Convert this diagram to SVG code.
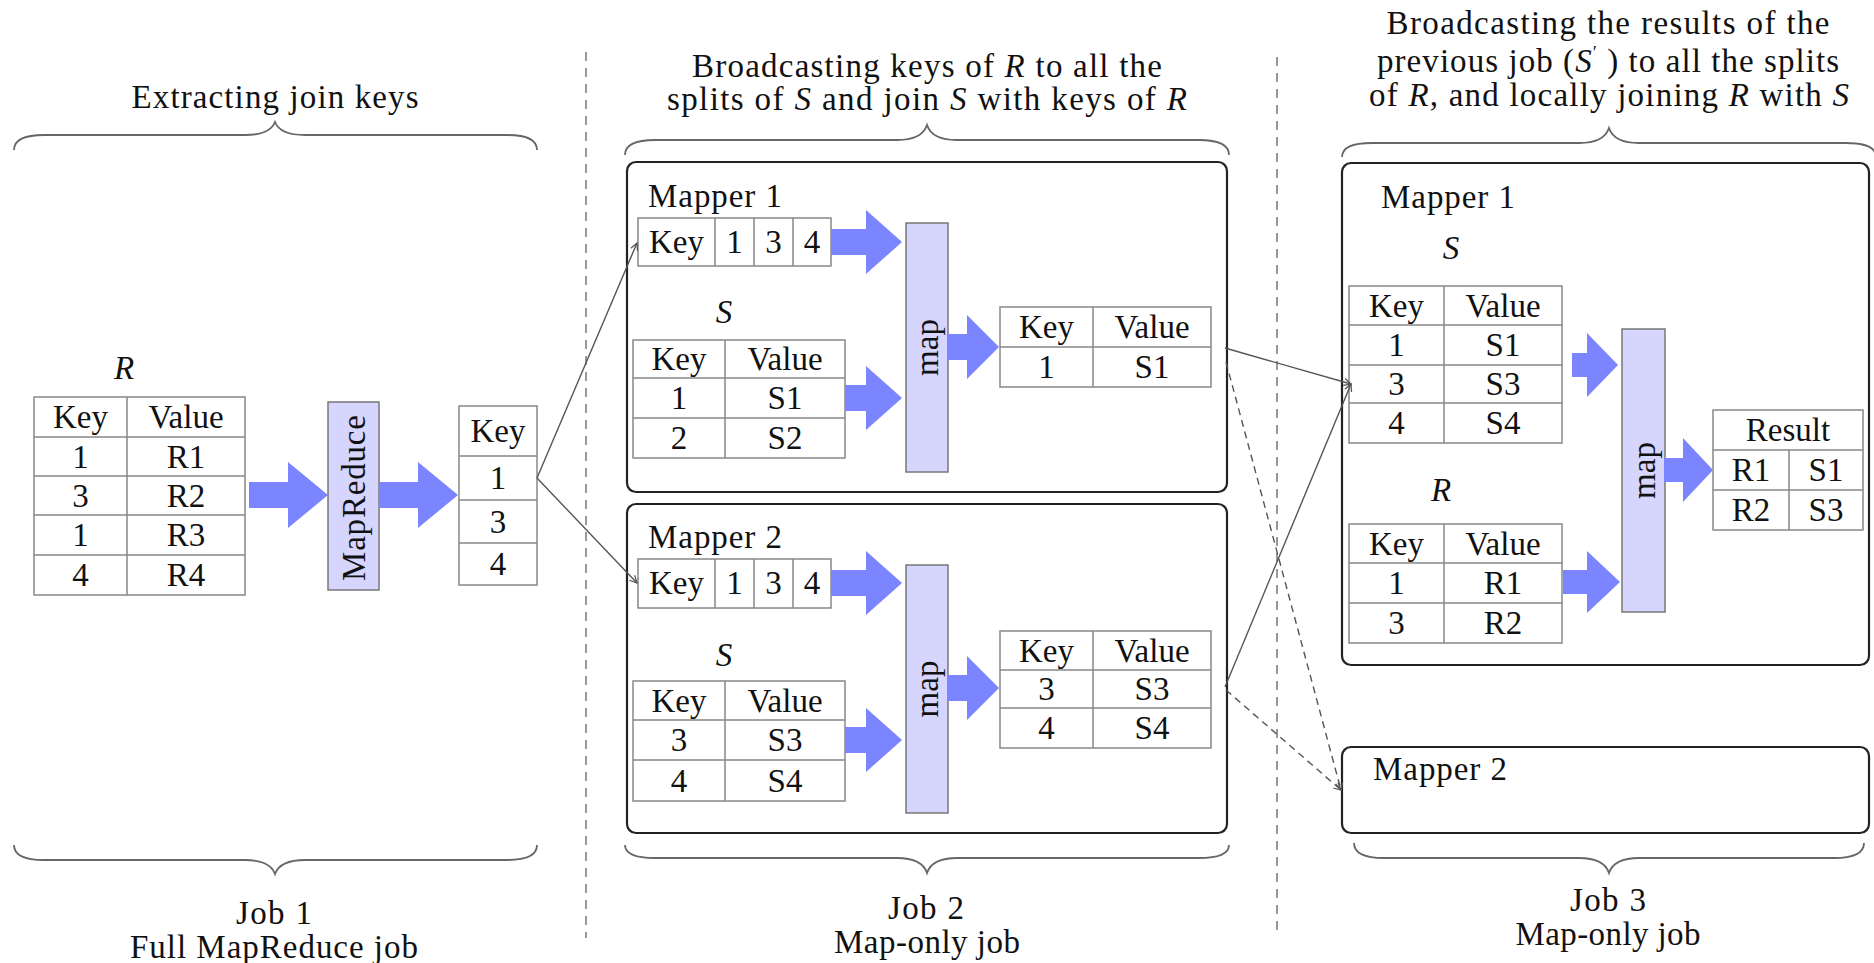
<svg xmlns="http://www.w3.org/2000/svg" width="1874" height="963" viewBox="0 0 1874 963">
<defs>
<style>
text{font-family:"Liberation Serif","Times New Roman",serif;fill:#111;font-size:33px}
.c{text-anchor:middle;dominant-baseline:central}
.m{text-anchor:middle}
.i{font-style:italic}
.cell{fill:#fff;stroke:#888;stroke-width:1.5}
.grid{stroke:#888;stroke-width:1.5;fill:none}
.fat{fill:#7b85ff}
.proc{fill:#d5d5fe;stroke:#777;stroke-width:1.5}
.box{fill:#fff;stroke:#222;stroke-width:2.2}
.brace{fill:none;stroke:#666;stroke-width:1.8}
.sep{stroke:#999;stroke-width:2;stroke-dasharray:9 7}
.con{stroke:#555;stroke-width:1.4;fill:none;marker-end:url(#tip)}
.dash{stroke-dasharray:7 5}
</style>
<marker id="tip" viewBox="0 0 10 10" refX="9" refY="5" markerWidth="9" markerHeight="9" orient="auto" markerUnits="userSpaceOnUse"><path d="M1,1 L9,5 L1,9" fill="none" stroke="#555" stroke-width="1.4"/></marker>
</defs>
<rect width="1874" height="963" fill="#fff"/>

<g id="separators">
<line class="sep" x1="586" y1="52" x2="586" y2="938"/>
<line class="sep" x1="1277" y1="57" x2="1277" y2="932"/>
</g>

<g id="braces">
<path class="brace" d="M14,150 Q14,135 44,135 L245,135 Q270,135 275,122 Q280,135 305,135 L507,135 Q537,135 537,150"/>
<path class="brace" d="M625,155 Q625,140 655,140 L897,140 Q922,140 927,125 Q932,140 957,140 L1199,140 Q1229,140 1229,155"/>
<path class="brace" d="M1342,157 Q1342,143 1372,143 L1579,143 Q1604,143 1609,128 Q1614,143 1639,143 L1846,143 Q1876,143 1876,157"/>
<path class="brace" d="M14,845 Q14,860 44,860 L245,860 Q270,860 275,874 Q280,860 305,860 L507,860 Q537,860 537,845"/>
<path class="brace" d="M625,845 Q625,858 655,858 L897,858 Q922,858 927,873 Q932,858 957,858 L1199,858 Q1229,858 1229,845"/>
<path class="brace" d="M1354,843 Q1354,858 1384,858 L1579,858 Q1604,858 1609,873 Q1614,858 1639,858 L1834,858 Q1864,858 1864,843"/>
</g>

<g id="titles">
<text class="m" x="275" y="108" textLength="287">Extracting join keys</text>
<text class="m" x="927" y="77" textLength="470">Broadcasting keys of <tspan class="i">R</tspan> to all the</text>
<text class="m" x="927" y="110" textLength="520">splits of <tspan class="i">S</tspan> and join <tspan class="i">S</tspan> with keys of <tspan class="i">R</tspan></text>
<text class="m" x="1608" y="34" textLength="443">Broadcasting the results of the</text>
<text class="m" x="1608" y="72" textLength="462">previous job (<tspan class="i">S</tspan><tspan font-size="19" dy="-13">′</tspan><tspan dy="13"> ) to all the splits</tspan></text>
<text class="m" x="1609" y="106" textLength="480">of <tspan class="i">R</tspan>, and locally joining <tspan class="i">R</tspan> with <tspan class="i">S</tspan></text>
<text class="m" x="274" y="924" textLength="76">Job 1</text>
<text class="m" x="274" y="958" textLength="288">Full MapReduce job</text>
<text class="m" x="926" y="919" textLength="76">Job 2</text>
<text class="m" x="927" y="953" textLength="186">Map-only job</text>
<text class="m" x="1608" y="911" textLength="76">Job 3</text>
<text class="m" x="1608" y="945" textLength="185">Map-only job</text>
</g>

<!-- Job 1 -->
<g id="job1-R">
<text class="c i" x="124" y="368">R</text>
<rect class="cell" x="34" y="397" width="211" height="198"/>
<path class="grid" d="M34,437H245M34,476H245M34,515H245M34,555H245M127,397V595"/>
<text class="c" x="80.5" y="417">Key</text><text class="c" x="186" y="417">Value</text>
<text class="c" x="80.5" y="456.5">1</text><text class="c" x="186" y="456.5">R1</text>
<text class="c" x="80.5" y="495.5">3</text><text class="c" x="186" y="495.5">R2</text>
<text class="c" x="80.5" y="535">1</text><text class="c" x="186" y="535">R3</text>
<text class="c" x="80.5" y="575">4</text><text class="c" x="186" y="575">R4</text>
</g>
<g id="job1-arrow1"><path class="fat" d="M249,482 L288,482 L288,462 L328,495 L288,528 L288,508 L249,508 Z"/></g>
<g id="job1-mapreduce">
<rect class="proc" x="328" y="402" width="51" height="188"/>
<text class="c" x="353.5" y="498" transform="rotate(-90 353.5 498)" textLength="166">MapReduce</text>
</g>
<g id="job1-arrow2"><path class="fat" d="M379,482 L418,482 L418,462 L458,495 L418,528 L418,508 L379,508 Z"/></g>
<g id="job1-keys">
<rect class="cell" x="459" y="406" width="78" height="179"/>
<path class="grid" d="M459,456H537M459,500H537M459,543H537"/>
<text class="c" x="498" y="431">Key</text>
<text class="c" x="498" y="478">1</text>
<text class="c" x="498" y="521.5">3</text>
<text class="c" x="498" y="564">4</text>
</g>

<!-- Job 2 Mapper 1 -->
<g id="job2-mapper1">
<rect class="box" x="627" y="162" width="600" height="330" rx="9"/>
<text x="648" y="207" textLength="134">Mapper 1</text>
<rect class="cell" x="638" y="218" width="193" height="48"/>
<path class="grid" d="M715,218V266M754,218V266M793,218V266"/>
<text class="c" x="676.5" y="242">Key</text><text class="c" x="734.5" y="242">1</text><text class="c" x="773.5" y="242">3</text><text class="c" x="812" y="242">4</text>
<path class="fat" d="M831,229 L866,229 L866,210 L902,242 L866,274 L866,255 L831,255 Z"/>
<text class="c i" x="724" y="312">S</text>
<rect class="cell" x="633" y="340" width="212" height="118"/>
<path class="grid" d="M633,378H845M633,418H845M725,340V458"/>
<text class="c" x="679" y="359">Key</text><text class="c" x="785" y="359">Value</text>
<text class="c" x="679" y="398">1</text><text class="c" x="785" y="398">S1</text>
<text class="c" x="679" y="438">2</text><text class="c" x="785" y="438">S2</text>
<path class="fat" d="M845,385 L866,385 L866,366 L902,398 L866,430 L866,411 L845,411 Z"/>
<rect class="proc" x="906" y="223" width="42" height="249"/>
<text class="c" x="927" y="347.5" transform="rotate(-90 927 347.5)">map</text>
<path class="fat" d="M948,334 L967,334 L967,315 L999,347 L967,379 L967,360 L948,360 Z"/>
<rect class="cell" x="1000" y="307" width="211" height="80"/>
<path class="grid" d="M1000,347H1211M1093,307V387"/>
<text class="c" x="1046.5" y="327">Key</text><text class="c" x="1152" y="327">Value</text>
<text class="c" x="1046.5" y="367">1</text><text class="c" x="1152" y="367">S1</text>
</g>

<!-- Job 2 Mapper 2 -->
<g id="job2-mapper2">
<rect class="box" x="627" y="504" width="600" height="329" rx="9"/>
<text x="648" y="548" textLength="134">Mapper 2</text>
<rect class="cell" x="638" y="559" width="193" height="49"/>
<path class="grid" d="M715,559V608M754,559V608M793,559V608"/>
<text class="c" x="676.5" y="583">Key</text><text class="c" x="734.5" y="583">1</text><text class="c" x="773.5" y="583">3</text><text class="c" x="812" y="583">4</text>
<path class="fat" d="M831,570 L866,570 L866,551 L902,583 L866,615 L866,596 L831,596 Z"/>
<text class="c i" x="724" y="655">S</text>
<rect class="cell" x="633" y="681" width="212" height="120"/>
<path class="grid" d="M633,720H845M633,760H845M725,681V801"/>
<text class="c" x="679" y="700.5">Key</text><text class="c" x="785" y="700.5">Value</text>
<text class="c" x="679" y="740">3</text><text class="c" x="785" y="740">S3</text>
<text class="c" x="679" y="780.5">4</text><text class="c" x="785" y="780.5">S4</text>
<path class="fat" d="M845,727 L866,727 L866,708 L902,740 L866,772 L866,753 L845,753 Z"/>
<rect class="proc" x="906" y="565" width="42" height="248"/>
<text class="c" x="927" y="689" transform="rotate(-90 927 689)">map</text>
<path class="fat" d="M948,675 L967,675 L967,656 L999,688 L967,720 L967,701 L948,701 Z"/>
<rect class="cell" x="1000" y="631" width="211" height="117"/>
<path class="grid" d="M1000,670H1211M1000,708H1211M1093,631V748"/>
<text class="c" x="1046.5" y="650.5">Key</text><text class="c" x="1152" y="650.5">Value</text>
<text class="c" x="1046.5" y="689">3</text><text class="c" x="1152" y="689">S3</text>
<text class="c" x="1046.5" y="728">4</text><text class="c" x="1152" y="728">S4</text>
</g>

<!-- Job 3 Mapper 1 -->
<g id="job3-mapper1">
<rect class="box" x="1342" y="163" width="527" height="502" rx="9"/>
<text x="1381" y="208" textLength="134">Mapper 1</text>
<text class="c i" x="1451" y="248">S</text>
<rect class="cell" x="1349" y="286" width="213" height="157"/>
<path class="grid" d="M1349,325H1562M1349,365H1562M1349,403H1562M1444,286V443"/>
<text class="c" x="1396.5" y="305.5">Key</text><text class="c" x="1503" y="305.5">Value</text>
<text class="c" x="1396.5" y="345">1</text><text class="c" x="1503" y="345">S1</text>
<text class="c" x="1396.5" y="384">3</text><text class="c" x="1503" y="384">S3</text>
<text class="c" x="1396.5" y="423">4</text><text class="c" x="1503" y="423">S4</text>
<path class="fat" d="M1572,353 L1587,353 L1587,333 L1618,365 L1587,397 L1587,377 L1572,377 Z"/>
<text class="c i" x="1441" y="490">R</text>
<rect class="cell" x="1349" y="524" width="213" height="119"/>
<path class="grid" d="M1349,563H1562M1349,603H1562M1444,524V643"/>
<text class="c" x="1396.5" y="543.5">Key</text><text class="c" x="1503" y="543.5">Value</text>
<text class="c" x="1396.5" y="583">1</text><text class="c" x="1503" y="583">R1</text>
<text class="c" x="1396.5" y="623">3</text><text class="c" x="1503" y="623">R2</text>
<path class="fat" d="M1563,570 L1587,570 L1587,551 L1620,582 L1587,613 L1587,594 L1563,594 Z"/>
<rect class="proc" x="1622" y="329" width="43" height="283"/>
<text class="c" x="1643.5" y="470.5" transform="rotate(-90 1643.5 470.5)">map</text>
<path class="fat" d="M1664,458 L1683,458 L1683,438 L1713,470 L1683,502 L1683,482 L1664,482 Z"/>
<rect class="cell" x="1713" y="410" width="150" height="120"/>
<path class="grid" d="M1713,450H1863M1713,490H1863M1789,450V530"/>
<text class="c" x="1788" y="430">Result</text>
<text class="c" x="1751" y="470">R1</text><text class="c" x="1826" y="470">S1</text>
<text class="c" x="1751" y="510">R2</text><text class="c" x="1826" y="510">S3</text>
</g>

<!-- Job 3 Mapper 2 -->
<g id="job3-mapper2">
<rect class="box" x="1342" y="747" width="527" height="86" rx="9"/>
<text x="1373" y="780" textLength="134">Mapper 2</text>
</g>

<g id="connectors">
<line class="con" x1="537" y1="478" x2="637" y2="243"/>
<line class="con" x1="537" y1="478" x2="637" y2="583"/>
<line class="con" x1="1225" y1="348" x2="1351" y2="384"/>
<line class="con" x1="1225" y1="687" x2="1351" y2="384"/>
<line class="con dash" x1="1226" y1="362" x2="1341" y2="790"/>
<line class="con dash" x1="1226" y1="690" x2="1341" y2="790"/>
</g>
</svg>
